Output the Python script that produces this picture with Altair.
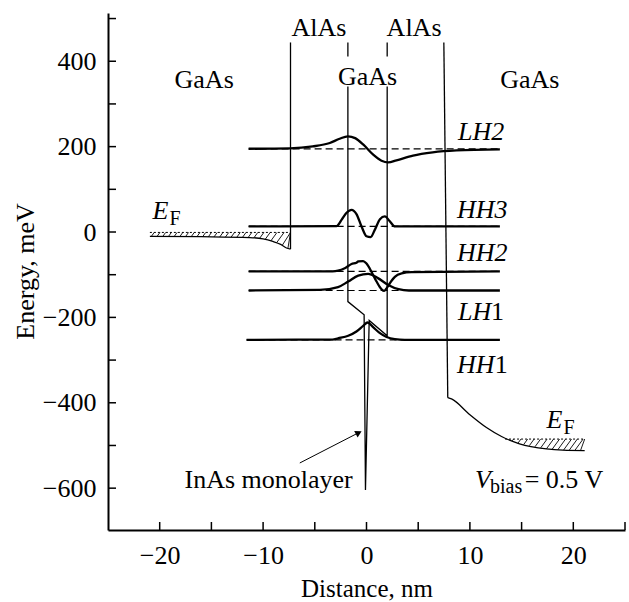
import altair as alt
import numpy as np
import pandas as pd

FONT = "Liberation Serif"

# ---------------- data ----------------
# energy levels (dashed) and their span
level_names = ["LH2", "HH3", "HH2", "LH1", "HH1"]
level_E = [194.6, 13.0, -92.4, -137.0, -252.5]
level_x0 = [-11.4, -11.4, -11.4, -11.4, -11.6]
level_x1 = [12.9, 12.9, 12.9, 12.9, 12.9]

# wavefunctions drawn on their levels
lh2_x = [-11.4, -7.4, -5.2, -3.55, -2.6, -1.8, -1.1, -0.3, 0.65, 1.45, 2.1, 2.9, 4.5, 6.4, 8.7, 12.9]
lh2_y = [195, 196, 200.5, 208.5, 218.5, 224, 220, 204.5, 181, 167, 163, 168, 179, 186.5, 191, 193.5]

hh3_x = [-11.4, -2.9, -2.4, -1.95, -1.45, -0.97, -0.48, 0.0, 0.4, 0.8, 1.3, 1.77, 2.26, 2.75, 12.9]
hh3_y = [13, 14, 29, 44.5, 52, 42, 13, -10, -12, 5, 30, 36.5, 25, 13, 13]

hh2_x = [-11.4, -3.3, -2.75, -2.1, -1.45, -0.97, -0.8, -0.32, 0.0, 0.48, 0.97, 1.45, 1.7, 1.94, 2.26, 2.74, 3.4, 4.35, 12.9]
hh2_y = [-92.4, -92, -90.7, -85, -75, -72, -69, -68, -74, -93, -116, -134, -138, -132, -120, -105, -97, -94, -92.4]

lh1_x = [-11.4, -4.5, -2.75, -1.77, -0.8, 0.16, 1.1, 2.1, 3.1, 4.1, 12.9]
lh1_y = [-137, -135.5, -129, -116, -102, -98, -108, -124, -134, -137, -137]

hh1_x = [-11.6, -3.3, -2.75, -1.77, -0.97, -0.32, 0.1, 0.64, 1.3, 1.94, 2.74, 3.7, 12.9]
hh1_y = [-252.5, -252, -249, -243, -233, -220, -212, -223, -237, -246, -251, -252.5, -252.5]

# valence-band profile (thin line): smooth curves and straight segments
curve_left_x = [-20.95, -16.0, -11.3, -10.0, -9.06, -8.3, -7.74, -7.35]
curve_left_y = [-10, -11, -13, -16, -22, -29, -37.5, -40]
curve_right_x = [7.86, 8.22, 10.0, 11.6, 13.06, 14.8, 17.4, 19.0, 21.1]
curve_right_y = [-388, -391, -428, -458, -479, -496, -508, -511, -512]

barrier_l_x = [-7.35, -7.35]
barrier_l_y = [-40, 444]
wall_l_top_x = [-1.8, -1.8]
wall_l_top_y = [444, 411]
well_x = [-1.8, -1.8, -0.23, -0.1, 0.26, 2.0, 2.0]
well_y = [341, -163, -194, -604, -207, -243, 341]
wall_r_top_x = [2.0, 2.0]
wall_r_top_y = [411, 444]
barrier_r_x = [7.48, 7.86]
barrier_r_y = [444, -388]

# Fermi levels
ef_left = -1.0
ef_left_span = [-20.95, -7.35]
ef_right = -485.0
ef_right_span = [13.4, 21.1]

# axis ticks
x_tick_vals = [-20, -15, -10, -5, 0, 5, 10, 15, 20, 25]
x_label_vals = [-20, -10, 0, 10, 20]
y_tick_vals = [-600, -500, -400, -300, -200, -100, 0, 100, 200, 300, 400, 500]
y_label_vals = [-600, -400, -200, 0, 200, 400]

X_DOM = [-25, 25]
Y_DOM = [-698, 513]
W, H = 517, 517

# annotations
center_txt = ["AlAs", "AlAs", "GaAs", "GaAs", "GaAs"]
center_x = [-4.6, 4.6, -15.7, 0.1, 15.8]
center_y = [479, 479, 357, 364, 357]

italic_txt = ["LH2", "HH3", "HH2", "LH", "HH", "E", "E", "V"]
italic_x = [8.85, 8.75, 8.75, 8.85, 8.75, -20.7, 17.4, 10.5]
italic_y = [235, 52, -49, -187, -311, 49, -440, -581]

upright_txt = ["1", "1", "InAs monolayer", "= 0.5 V"]
upright_x = [12.05, 12.4, -17.6, 15.3]
upright_y = [-187, -311, -581, -581]

sub_txt = ["F", "F", "bias"]
sub_x = [-19.05, 19.05, 11.95]
sub_y = [31, -459, -597]

arrow_x = [-6.45, -0.75]
arrow_y = [-541, -470]

# ---------------- build tables ----------------
def series(name, xs, ys):
    return pd.DataFrame({"s": name, "i": range(len(xs)), "x": xs, "y": ys})

wf = pd.concat([
    series("LH2", lh2_x, lh2_y), series("HH3", hh3_x, hh3_y),
    series("HH2", hh2_x, hh2_y), series("LH1", lh1_x, lh1_y),
    series("HH1", hh1_x, hh1_y)])

band_curves = pd.concat([series("c1", curve_left_x, curve_left_y),
                         series("c2", curve_right_x, curve_right_y)])

band = pd.concat([
    series("b1", barrier_l_x, barrier_l_y), series("b2", wall_l_top_x, wall_l_top_y),
    series("b3", well_x, well_y), series("b4", wall_r_top_x, wall_r_top_y),
    series("b5", barrier_r_x, barrier_r_y)])

levels = pd.DataFrame({"s": level_names, "x": level_x0, "x2": level_x1, "y": level_E})

ef = pd.DataFrame({"x": [ef_left_span[0], ef_right_span[0]],
                   "x2": [ef_left_span[1], ef_right_span[1]],
                   "y": [ef_left, ef_right]})

# hatch strokes derived from Fermi level and band curve
hx, hy, hx2, hy2 = [], [], [], []
for (a, b), e, cx, cy in [(ef_left_span, ef_left, curve_left_x, curve_left_y),
                          (ef_right_span, ef_right, curve_right_x, curve_right_y)]:
    for xv in np.arange(a + 0.15, b, 0.55):
        bot = float(np.interp(xv, cx, cy))
        if bot >= e:
            continue
        dx = (e - bot) * 0.03
        top_x = min(xv + dx, b)
        hx.append(xv); hy.append(bot); hx2.append(top_x); hy2.append(e)
hatch = pd.DataFrame({"x": hx, "y": hy, "x2": hx2, "y2": hy2})

xs = alt.Scale(domain=X_DOM, nice=False, zero=False)
ys = alt.Scale(domain=Y_DOM, nice=False, zero=False)

base_x = alt.X("x:Q", scale=xs, axis=alt.Axis(
    values=x_label_vals, ticks=False, grid=False, domainColor="black", domainWidth=2,
    labelFont=FONT, labelFontSize=26, labelColor="black", labelPadding=12,
    title="Distance, nm", titleFont=FONT, titleFontSize=25, titleFontWeight="normal",
    titleColor="black", titleY=58, titleBaseline="middle"))
base_y = alt.Y("y:Q", scale=ys, axis=alt.Axis(
    values=y_label_vals, ticks=False, grid=False, domainColor="black", domainWidth=2,
    labelFont=FONT, labelFontSize=26, labelColor="black", labelPadding=12,
    title="Energy, meV", titleFont=FONT, titleFontSize=26, titleFontWeight="normal",
    titleColor="black", titleX=-83, titleY=258, titleBaseline="middle", titleAngle=-90))

layers = []

# level dashed lines
layers.append(alt.Chart(levels).mark_rule(color="black", strokeWidth=1.2, strokeDash=[7, 4]).encode(
    x=base_x, x2="x2:Q", y=base_y))

# band profile
layers.append(alt.Chart(band).mark_line(color="black", strokeWidth=1.3).encode(
    x=alt.X("x:Q", scale=xs), y=alt.Y("y:Q", scale=ys), detail="s:N", order="i:Q"))
layers.append(alt.Chart(band_curves).mark_line(color="black", strokeWidth=1.3, interpolate="monotone").encode(
    x=alt.X("x:Q", scale=xs), y=alt.Y("y:Q", scale=ys), detail="s:N", order="i:Q"))

# wavefunctions
layers.append(alt.Chart(wf).mark_line(color="black", strokeWidth=2.3, interpolate="monotone").encode(
    x=alt.X("x:Q", scale=xs), y=alt.Y("y:Q", scale=ys), detail="s:N", order="i:Q"))

# Fermi level (dotted top) and hatching
layers.append(alt.Chart(ef).mark_rule(color="black", strokeWidth=1, strokeDash=[2, 2]).encode(
    x=alt.X("x:Q", scale=xs), x2="x2:Q", y=alt.Y("y:Q", scale=ys)))
layers.append(alt.Chart(hatch).mark_rule(color="black", strokeWidth=0.9).encode(
    x=alt.X("x:Q", scale=xs), x2="x2:Q", y=alt.Y("y:Q", scale=ys), y2="y2:Q"))

# inward ticks
xt = pd.DataFrame({"x": x_tick_vals})
yt = pd.DataFrame({"y": y_tick_vals})
layers.append(alt.Chart(xt).mark_rule(color="black", strokeWidth=1.5).encode(
    x=alt.X("x:Q", scale=xs), y=alt.value(H), y2=alt.value(H - 8)))
layers.append(alt.Chart(yt).mark_rule(color="black", strokeWidth=1.5).encode(
    y=alt.Y("y:Q", scale=ys), x=alt.value(0), x2=alt.value(8)))

# arrow
arr = pd.DataFrame({"x": arrow_x, "y": arrow_y, "i": [0, 1]})
layers.append(alt.Chart(arr).mark_line(color="black", strokeWidth=1).encode(
    x=alt.X("x:Q", scale=xs), y=alt.Y("y:Q", scale=ys), order="i:Q"))
layers.append(alt.Chart(arr.iloc[[1]]).mark_point(shape="triangle-up", filled=True, color="black",
                                                 size=55, angle=62, opacity=1).encode(
    x=alt.X("x:Q", scale=xs), y=alt.Y("y:Q", scale=ys)))

# texts
def tdf(t, x, y):
    return pd.DataFrame({"t": t, "x": x, "y": y})

layers.append(alt.Chart(tdf(center_txt, center_x, center_y)).mark_text(
    font=FONT, fontSize=26, align="center", baseline="middle", color="black").encode(
    x=alt.X("x:Q", scale=xs), y=alt.Y("y:Q", scale=ys), text="t:N"))
layers.append(alt.Chart(tdf(italic_txt, italic_x, italic_y)).mark_text(
    font=FONT, fontSize=26, fontStyle="italic", align="left", baseline="middle", color="black").encode(
    x=alt.X("x:Q", scale=xs), y=alt.Y("y:Q", scale=ys), text="t:N"))
layers.append(alt.Chart(tdf(upright_txt, upright_x, upright_y)).mark_text(
    font=FONT, fontSize=26, align="left", baseline="middle", color="black").encode(
    x=alt.X("x:Q", scale=xs), y=alt.Y("y:Q", scale=ys), text="t:N"))
layers.append(alt.Chart(tdf(sub_txt, sub_x, sub_y)).mark_text(
    font=FONT, fontSize=20, align="left", baseline="middle", color="black").encode(
    x=alt.X("x:Q", scale=xs), y=alt.Y("y:Q", scale=ys), text="t:N"))

chart = alt.layer(*layers).properties(
    width=W, height=H,
    autosize=alt.AutoSizeParams(type="none"),
    padding={"left": 108, "top": 13, "right": 4, "bottom": 72},
    background="white",
).configure_view(stroke=None)

chart.save("out.html", embed_options={"renderer": "svg", "actions": False})
